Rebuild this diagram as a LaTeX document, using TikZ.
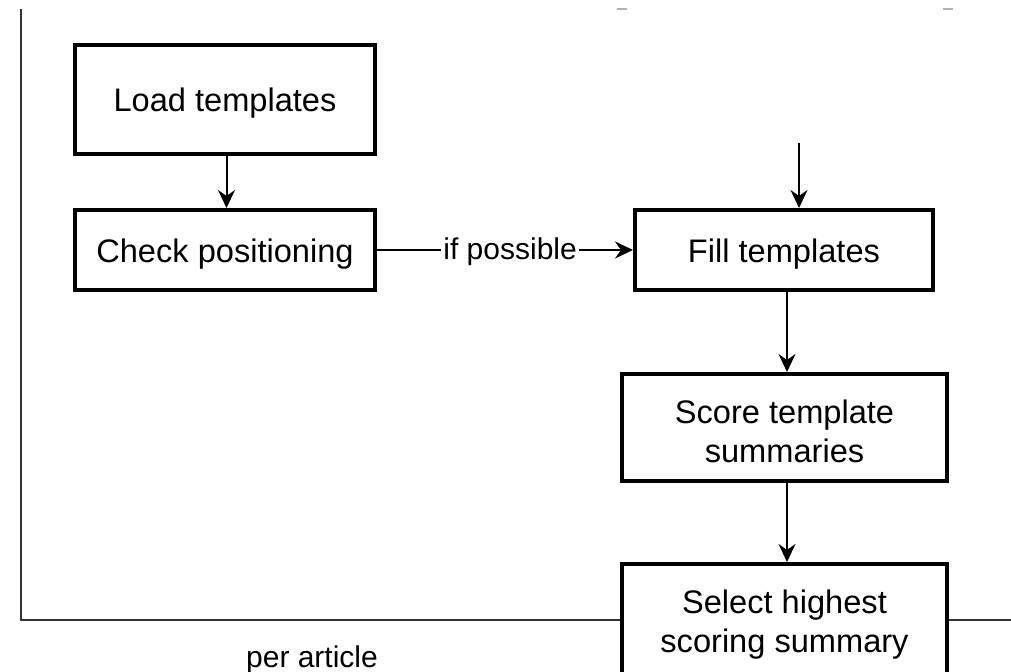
\documentclass[tikz,border=0pt]{standalone}
\usepackage{fontspec}
\setmainfont{Liberation Sans}
\usetikzlibrary{arrows.meta}
\begin{document}
\begin{tikzpicture}[x=0.5pt,y=-0.5pt,
  stepbox/.style={draw=black, line width=2pt, fill=white, rectangle, inner sep=0pt},
  steptext/.style={align=center, inner sep=0pt, yshift=-2pt,
    font=\fontsize{16.3pt}{19.5pt}\selectfont},
  flow/.style={draw=black, line width=1pt,
    -{Stealth[length=9pt,width=8.5pt,inset=3pt]}},
  frame/.style={draw=black!80, line width=1.1pt},
  note/.style={font=\fontsize{15pt}{18pt}\selectfont, inner sep=1pt}]
\useasboundingbox (0,0) rectangle (1011,672);

% outer loop boundary
\draw[frame] (21,9) -- (21,620) -- (1011,620);
\draw[black!30, line width=1pt] (617,9) -- (627,9);
\draw[black!30, line width=1pt] (943,9) -- (953,9);

% process steps
\node[stepbox, minimum width=150pt, minimum height=54.5pt] (load) at (225,99.5) {};
\node[stepbox, minimum width=150pt, minimum height=40pt] (check) at (225,250) {};
\node[stepbox, minimum width=149pt, minimum height=40pt] (fill) at (784,250) {};
\node[stepbox, minimum width=162.5pt, minimum height=53.5pt] (score) at (784.5,427.5) {};
\node[stepbox, minimum width=162.5pt, minimum height=57pt] (select) at (784.5,621) {};

\node[steptext] (loadtext) at (load.center) {Load templates};
\node[steptext] (checktext) at (check.center) {Check positioning};
\node[steptext] (filltext) at (fill.center) {Fill templates};
\node[steptext] (scoretext) at (score.center) {Score template\\summaries};
\node[steptext] (selecttext) at (select.center) {Select highest\\scoring summary};

\node[note] (per) at (312,660) {per article};

% connectors
\coordinate (feed) at (799,143);
\draw[flow] (load.south -| 226.5,0) -- (check.north -| 226.5,0);
\draw[flow] (check.east) -- node[note, fill=white, pos=0.52, yshift=-1pt] {if possible} (fill.west);
\draw[flow] (feed) -- (feed |- fill.north);
\draw[flow] (fill.south -| 787,0) -- (score.north -| 787,0);
\draw[flow] (score.south -| 787,0) -- (select.north -| 787,0);
\end{tikzpicture}
\end{document}
